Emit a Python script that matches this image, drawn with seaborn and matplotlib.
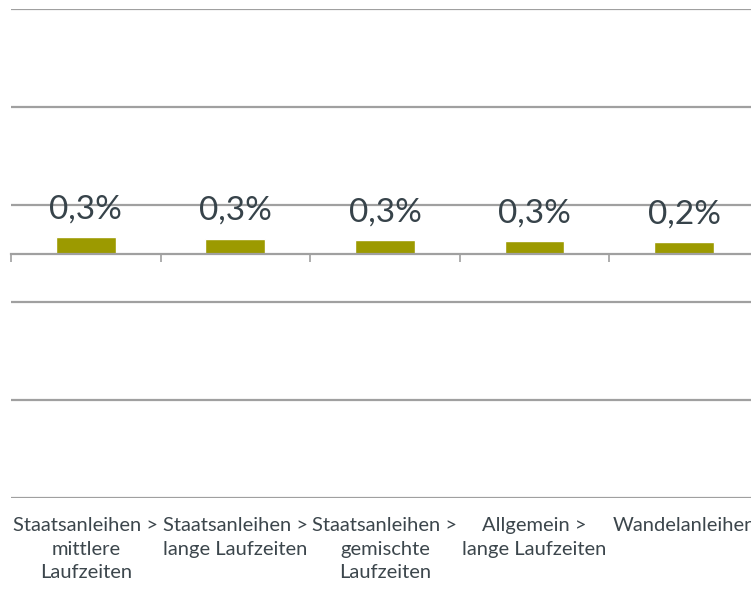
import matplotlib
matplotlib.use("Agg")
import matplotlib.pyplot as plt
import seaborn as sns
import pandas as pd

# values (percent)
categories = [
    "Staatsanleihen >\nmittlere\nLaufzeiten",
    "Staatsanleihen >\nlange Laufzeiten",
    "Staatsanleihen >\ngemischte\nLaufzeiten",
    "Allgemein >\nlange Laufzeiten",
    "Wandelanleihen",
]
values = [0.335, 0.307, 0.286, 0.26, 0.239]
grid_levels = [-5, -3, -1, 1, 3, 5]

df = pd.DataFrame({"Kategorie": categories, "Wert": values})

sns.set_theme(style="white")
plt.rcParams["font.family"] = ["Lato", "DejaVu Sans"]

fig = plt.figure(figsize=(7.51, 5.91), dpi=100)
ax = fig.add_axes([0.0146, 0.157, 0.9960, 0.828])

sns.barplot(data=df, x="Kategorie", y="Wert", color="#9c9a00", width=0.4,
            saturation=1, ax=ax)

ax.set_ylim(-5, 5)
ax.set_xlim(-0.5, len(categories) - 0.5)
ax.set_yticks(grid_levels)
ax.yaxis.grid(True, color="#a0a0a0", linewidth=1.6)
ax.set_axisbelow(True)
ax.tick_params(axis="y", left=False, labelleft=False)
ax.set_xlabel("")
ax.set_ylabel("")

for side in ["top", "left", "right"]:
    ax.spines[side].set_visible(False)
ax.spines["bottom"].set_position(("data", 0))
ax.spines["bottom"].set_color("#a0a0a0")
ax.spines["bottom"].set_linewidth(1.6)

# category boundary ticks on the zero line
ax.set_xticks([i - 0.5 for i in range(len(categories) + 1)], minor=True)
ax.tick_params(axis="x", which="minor", bottom=True, length=6, width=1.2,
               color="#a0a0a0", direction="out")
ax.tick_params(axis="x", which="major", bottom=False, pad=184,
               labelsize=14.5, labelcolor="#3c464c")
for lbl in ax.get_xticklabels():
    lbl.set_linespacing(1.45)
    lbl.set_verticalalignment("top")

labels = [f"{v:.1f}%".replace(".", ",") for v in values]
ax.bar_label(ax.containers[0], labels=labels, padding=9, fontsize=24,
             color="#37434a")

fig.savefig("out.png", dpi=100)
